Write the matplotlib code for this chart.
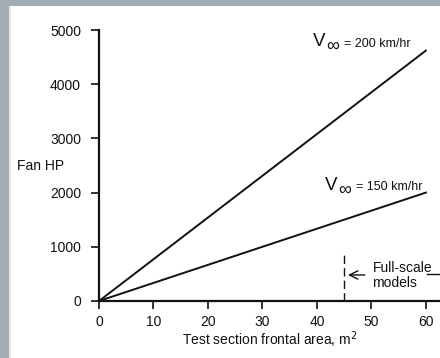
import matplotlib
matplotlib.use("Agg")
import matplotlib.pyplot as plt
from matplotlib.patches import Rectangle

plt.rcParams["font.family"] = ["Liberation Sans", "DejaVu Sans"]

# data
area = [0, 60]                       # test section frontal area, m^2
hp_200 = [0, 4620]                   # fan HP at V = 200 km/hr
hp_150 = [0, 2000]                   # fan HP at V = 150 km/hr
speed_labels = ["= 200 km/hr", "= 150 km/hr"]
full_scale_area = 45
xticks = [0, 10, 20, 30, 40, 50, 60]
yticks = [0, 1000, 2000, 3000, 4000, 5000]

FRAME = "#a4acb3"
INK = "#111111"

fig = plt.figure(figsize=(4.4, 3.58), dpi=100)
fig.patch.set_facecolor(FRAME)
fig.patches.append(Rectangle((11 / 440, 0), 1, (358 - 6) / 358, transform=fig.transFigure,
                             facecolor="white", edgecolor="none", zorder=-10))
fig.patches.append(Rectangle((9 / 440, 0), 2 / 440, (358 - 6) / 358, transform=fig.transFigure,
                             facecolor="#e6e9eb", edgecolor="none", zorder=-10))

ax = fig.add_axes([99 / 440, 57 / 358, 341 / 440, 271 / 358])
ax.set_facecolor("none")
ax.set_xlim(0, 62.6)
ax.set_ylim(0, 5000)

ax.plot(area, hp_200, color=INK, lw=1.4, clip_on=False)
ax.plot(area, hp_150, color=INK, lw=1.4, clip_on=False)

# full-scale marker
ax.plot([full_scale_area, full_scale_area], [0, 850], color=INK, lw=1.0, ls=(0, (6, 3)))
ax.annotate("", xy=(full_scale_area + 0.2, 480), xytext=(49.3, 480),
            arrowprops=dict(arrowstyle="->", color=INK, lw=1.0, mutation_scale=15))
ax.text(50.2, 610, "Full-scale", fontsize=10, ha="left", va="center", color=INK)
ax.text(50.2, 330, "models", fontsize=10, ha="left", va="center", color=INK)
ax.plot([60.2, 62.6], [500, 500], color=INK, lw=1.0, clip_on=False)


def speed_label(x, y, text):
    ax.text(x, y, "V", fontsize=13.5, ha="left", va="center", color=INK)
    ax.text(x + 2.5, y - 90, "\u221e", fontsize=13, ha="left", va="center", color=INK)
    ax.text(x + 5.7, y - 40, text, fontsize=9, ha="left", va="center", color=INK)


# line labels
speed_label(39.3, 4780, speed_labels[0])
speed_label(41.5, 2140, speed_labels[1])

ax.set_xticks(xticks)
ax.set_yticks(yticks)
ax.tick_params(direction="out", length=6, width=1.2, colors=INK, labelsize=10)
ax.tick_params(axis="x", pad=4)
ax.tick_params(axis="y", pad=7)
for s in ("top", "right"):
    ax.spines[s].set_visible(False)
for s in ("left", "bottom"):
    ax.spines[s].set_linewidth(1.6)
    ax.spines[s].set_color(INK)

fig.text(17 / 440, 1 - 166 / 358, "Fan HP", fontsize=10, ha="left", va="center", color=INK)
fig.text(270 / 440, 1 - 340 / 358, "Test section frontal area, m$^2$", fontsize=10,
         ha="center", va="center", color=INK)

fig.savefig("out.png", dpi=100, facecolor=fig.get_facecolor())
